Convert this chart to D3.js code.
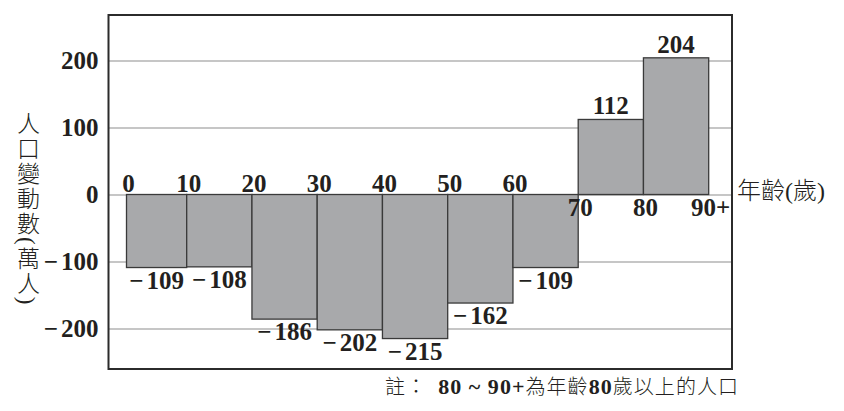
<!DOCTYPE html>
<html>
<head>
<meta charset="utf-8">
<script src="https://cdn.jsdelivr.net/npm/d3@7"></script>
<style>
  body { margin: 0; background: #fff; }
  svg { display: block; }
</style>
</head>
<body>
<div id="chart"></div>
<script>
// age bins (start of each 10-year group) and population change (10k people)
const binStarts = [0, 10, 20, 30, 40, 50, 60, 70, 80];
const changes = [-109, -108, -186, -202, -215, -162, -109, 112, 204];
const boundaryTicks = [0, 10, 20, 30, 40, 50, 60, 70, 80, 90];
const boundaryLabels = ["0", "10", "20", "30", "40", "50", "60", "70", "80", "90+"];
const yTicks = [-200, -100, 0, 100, 200];
const yTitle = "人口變動數(萬人)";
const xTitle = "年齡(歲)";

const w = 844, h = 411;
const frame = { left: 108.5, top: 15, right: 732, bottom: 369 };
const ink = "#231f20";
const serif = "'Liberation Serif', 'Noto Sans CJK TC', serif";
const numSize = 25;

const svg = d3.select("#chart").append("svg").attr("width", w).attr("height", h);

// first group is drawn a little narrower in the source, so the scale is piecewise
const x = d3.scaleLinear().domain([0, 10, 90]).range([126.5, 186.7, 708.7]);
const y = d3.scaleLinear().domain([-200, 200]).range([328.5, 60.5]);

// write a signed number as minus + digits with a small gap like the print
function signed(sel, getV) {
  sel.each(function(d, i) {
    const v = getV(d, i);
    const t = d3.select(this).text(null);
    if (v < 0) {
      t.append("tspan").text("\u2212");
      t.append("tspan").attr("dx", 3).text(Math.abs(v));
    } else {
      t.append("tspan").text(v);
    }
  });
}

const numStyle = s => s.attr("font-family", serif).attr("font-weight", "bold")
  .attr("font-size", numSize).attr("fill", ink);

// gridlines
svg.append("g")
  .attr("transform", "translate(" + frame.left + ",0)")
  .call(d3.axisLeft(y).tickValues(yTicks).tickSize(-(frame.right - frame.left)).tickFormat(""))
  .call(g => g.select(".domain").remove())
  .call(g => g.selectAll("line").attr("stroke", "#b3b3b3").attr("stroke-width", 1.4));

// bars
svg.append("g").selectAll("rect")
  .data(binStarts)
  .join("rect")
  .attr("x", d => x(d))
  .attr("width", d => x(d + 10) - x(d))
  .attr("y", (d, i) => Math.min(y(0), y(changes[i])))
  .attr("height", (d, i) => Math.abs(y(changes[i]) - y(0)))
  .attr("fill", "#a8a9ab")
  .attr("stroke", "#3a3a3a")
  .attr("stroke-width", 1.3);

// value labels
svg.append("g").selectAll("text")
  .data(binStarts)
  .join("text")
  .attr("x", d => (x(d) + x(d + 10)) / 2)
  .attr("y", (d, i) => changes[i] < 0 ? y(changes[i]) + 21 : y(changes[i]) - 5)
  .attr("text-anchor", "middle")
  .call(numStyle)
  .call(signed, (d, i) => changes[i]);

// frame
svg.append("rect")
  .attr("x", frame.left).attr("y", frame.top)
  .attr("width", frame.right - frame.left).attr("height", frame.bottom - frame.top)
  .attr("fill", "none").attr("stroke", "#2b2b2b").attr("stroke-width", 2);

// y tick labels
svg.append("g")
  .attr("transform", "translate(" + frame.left + ",0)")
  .call(d3.axisLeft(y).tickValues(yTicks).tickSize(0).tickPadding(10))
  .call(g => g.select(".domain").remove())
  .call(g => g.selectAll("text").call(numStyle).call(signed, d => d));

// boundary labels: above the zero line where the next bar goes down, below otherwise
const sideOf = t => {
  let i = binStarts.indexOf(t);
  if (i < 0) i = binStarts.length - 1;
  return changes[i] < 0 ? "up" : "down";
};
const labelOf = t => boundaryLabels[boundaryTicks.indexOf(t)];
const upTicks = boundaryTicks.filter(t => sideOf(t) === "up");
const downTicks = boundaryTicks.filter(t => sideOf(t) === "down");

const styleTicks = g => {
  g.select(".domain").remove();
  g.selectAll("text").call(numStyle).attr("dx", 1.5);
};

svg.append("g")
  .attr("transform", "translate(0," + y(0) + ")")
  .call(d3.axisTop(x).tickValues(upTicks).tickSize(0).tickPadding(3).tickFormat(labelOf))
  .call(styleTicks);

svg.append("g")
  .attr("transform", "translate(0," + y(0) + ")")
  .call(d3.axisBottom(x).tickValues(downTicks).tickSize(0).tickPadding(4).tickFormat(labelOf))
  .call(styleTicks);

// axis titles
svg.append("text")
  .attr("x", 737).attr("y", 199)
  .attr("font-family", serif).attr("font-weight", 300).attr("font-size", 24).attr("fill", ink)
  .text(xTitle);

svg.append("text")
  .attr("x", 26).attr("y", 112)
  .attr("font-family", serif).attr("font-weight", 300).attr("font-size", 23).attr("fill", ink)
  .style("writing-mode", "vertical-rl")
  .attr("letter-spacing", 2)
  .text(yTitle);

// note
const note = svg.append("text")
  .attr("x", 385).attr("y", 394)
  .attr("font-family", serif).attr("font-weight", 300).attr("font-size", 20).attr("fill", ink)
  .attr("textLength", 353).attr("lengthAdjust", "spacing");
note.append("tspan").text("註：\u2002");
note.append("tspan").attr("font-weight", "bold").attr("font-size", 22).text("80 ~ 90+");
note.append("tspan").text("為年齡");
note.append("tspan").attr("font-weight", "bold").attr("font-size", 22).text("80");
note.append("tspan").text("歲以上的人口");
</script>
</body>
</html>
